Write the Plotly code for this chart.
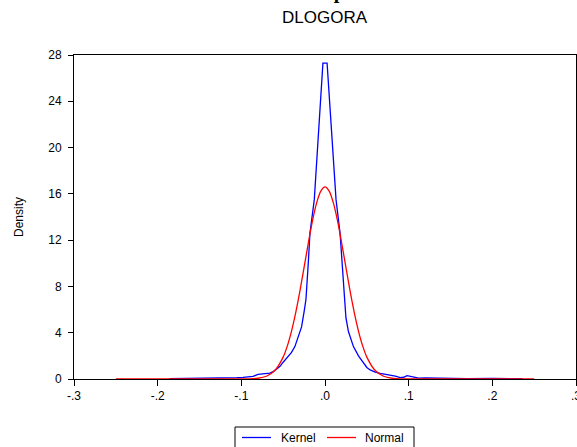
import plotly.graph_objects as go

# Kernel density estimate of DLOGORA (x, density)
kernel_x = [-0.186, -0.16, -0.14, -0.12, -0.105, -0.098, -0.09, -0.086, -0.08, -0.074,
            -0.07, -0.066, -0.062, -0.058, -0.054, -0.05, -0.044, -0.04, -0.036, -0.032,
            -0.028, -0.025, -0.0228, -0.02, -0.018, -0.0128, -0.0105, -0.0025, 0.0025,
            0.0105, 0.0132, 0.018, 0.0205, 0.0228, 0.025, 0.028, 0.031, 0.034, 0.04,
            0.046, 0.05, 0.054, 0.06, 0.066, 0.072, 0.078, 0.084, 0.09, 0.094, 0.098,
            0.104, 0.112, 0.12, 0.14, 0.17, 0.2, 0.22, 0.236]
kernel_y = [0.03, 0.04, 0.05, 0.06, 0.12, 0.14, 0.2, 0.22, 0.4, 0.42,
            0.43, 0.5, 0.63, 0.85, 1.07, 1.45, 1.93, 2.3, 2.8, 3.6,
            4.5, 5.8, 6.85, 10.0, 12.6, 15.5, 18.1, 27.3, 27.3,
            18.1, 15.5, 12.6, 9.7, 6.85, 5.3, 4.1, 3.4, 2.8, 2.0,
            1.35, 1.0, 0.78, 0.6, 0.49, 0.42, 0.35, 0.25, 0.12, 0.15, 0.29,
            0.22, 0.08, 0.1, 0.05, 0.04, 0.05, 0.06, 0.02]

# Fitted normal density (x, density)
normal_x = [-0.25, -0.15, -0.1, -0.09, -0.08, -0.07, -0.06, -0.05, -0.045, -0.04,
            -0.035, -0.03, -0.025, -0.02, -0.015, -0.01, -0.005, 0.0,
            0.005, 0.01, 0.015, 0.02, 0.025, 0.03, 0.035, 0.04, 0.045,
            0.05, 0.06, 0.07, 0.08, 0.09, 0.1, 0.15, 0.25]
normal_y = [0.0, 0.0, 0.003, 0.015, 0.064, 0.24, 0.73, 1.89, 2.86, 4.14,
            5.73, 7.6, 9.65, 11.73, 13.66, 15.22, 16.24, 16.6,
            16.24, 15.22, 13.66, 11.73, 9.65, 7.6, 5.73, 4.14, 2.86,
            1.89, 0.73, 0.24, 0.064, 0.015, 0.003, 0.0, 0.0]

x_ticks = [-0.3, -0.2, -0.1, 0.0, 0.1, 0.2, 0.3]
x_tick_labels = ["-.3", "-.2", "-.1", ".0", ".1", ".2", ".3"]
y_ticks = [0, 4, 8, 12, 16, 20, 24, 28]

series_names = ["Kernel", "Normal"]
series_colors = ["#0000ff", "#ff0000"]

FONT = "Liberation Sans, Arial, sans-serif"

# Plot-area geometry in pixels, used to place the hand-drawn legend box
W, H = 577, 447
L, R, T, B = 74, 1, 55, 68
PW, PH = W - L - R, H - T - B


def px_x(p):
    return (p - L) / PW


def px_y(p):
    return (H - B - p) / PH


fig = go.Figure()
fig.add_trace(go.Scatter(x=kernel_x, y=kernel_y, mode="lines", name=series_names[0],
                         line=dict(color=series_colors[0], width=1.3)))
fig.add_trace(go.Scatter(x=normal_x, y=normal_y, mode="lines", name=series_names[1],
                         line=dict(color=series_colors[1], width=1.3,
                                   shape="spline", smoothing=0.6)))

annotations = [
    dict(text="<b>Estimación de densidad kernel para los rendimientos diarios</b>",
         xref="paper", yref="paper", x=0.5, y=1.153, xanchor="center", yanchor="bottom",
         showarrow=False, font=dict(family="Liberation Serif, Times New Roman, serif",
                                    size=20, color="black")),
    dict(text="DLOGORA", xref="paper", yref="paper", x=0.5, y=1.0 + 26 / PH,
         xanchor="center", yanchor="bottom", showarrow=False,
         font=dict(family=FONT, size=17, color="black")),
]

# Legend: framed box below the axis, partly running off the bottom edge
shapes = [dict(type="rect", xref="paper", yref="paper",
               x0=px_x(235), x1=px_x(414), y0=px_y(449), y1=px_y(427),
               line=dict(color="black", width=1), fillcolor="white", layer="above")]
legend_items = [(242, 271, 279), (327, 356, 363)]
for (lx0, lx1, tx), name, color in zip(legend_items, series_names, series_colors):
    shapes.append(dict(type="line", xref="paper", yref="paper",
                       x0=px_x(lx0), x1=px_x(lx1), y0=px_y(437.5), y1=px_y(437.5),
                       line=dict(color=color, width=1.3)))
    annotations.append(dict(text=name, xref="paper", yref="paper",
                            x=px_x(tx), y=px_y(437.5), xanchor="left", yanchor="middle",
                            showarrow=False, font=dict(family=FONT, size=12, color="black")))

fig.update_layout(
    width=W, height=H,
    margin=dict(l=L, r=R, t=T, b=B),
    paper_bgcolor="white", plot_bgcolor="white",
    font=dict(family=FONT, size=12, color="black"),
    showlegend=False,
    annotations=annotations,
    shapes=shapes,
)

fig.update_xaxes(range=[-0.3, 0.3], tickvals=x_ticks, ticktext=x_tick_labels,
                 showgrid=False, zeroline=False, showline=True, linecolor="black",
                 linewidth=1, mirror=True, ticks="outside", ticklen=6, tickcolor="black",
                 ticklabeloverflow="allow", automargin=False,
                 tickfont=dict(size=12, family=FONT))
fig.update_yaxes(range=[0, 28], tickvals=y_ticks, showgrid=False, zeroline=False,
                 showline=True, linecolor="black", linewidth=1, mirror=True,
                 ticks="outside", ticklen=5, tickcolor="black", ticklabelstandoff=4,
                 automargin=False,
                 title=dict(text="Density", standoff=22, font=dict(size=12, family=FONT)),
                 tickfont=dict(size=12, family=FONT))

fig.write_html("out.html")
